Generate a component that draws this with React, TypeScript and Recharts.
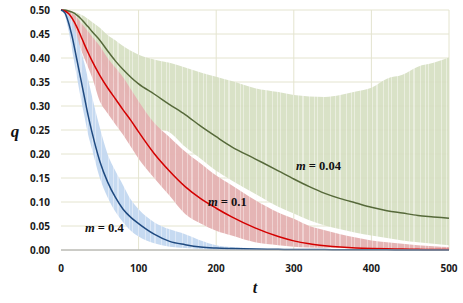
import { ComposedChart, Area, Line, XAxis, YAxis, CartesianGrid } from "recharts";

// time steps
const tValues = [0, 5, 10, 15, 20, 25, 30, 35, 40, 50, 60, 70, 80, 90, 100, 120, 140, 160, 180, 200, 220, 250, 280, 300, 320, 340, 360, 380, 400, 420, 440, 460, 480, 500];

// m = 0.4
const blueMean = [0.5, 0.494, 0.472, 0.44, 0.4, 0.36, 0.32, 0.28, 0.245, 0.185, 0.142, 0.11, 0.085, 0.068, 0.055, 0.033, 0.018, 0.011, 0.006, 0.004, 0.003, 0.002, 0.0015, 0.001, 0.001, 0.0008, 0.0006, 0.0005, 0.0004, 0.0003, 0.0002, 0.0002, 0.0001, 0.0001];
const blueLow = [0.5, 0.488, 0.455, 0.41, 0.365, 0.32, 0.28, 0.24, 0.21, 0.15, 0.11, 0.08, 0.058, 0.04, 0.028, 0.014, 0.007, 0.004, 0.002, 0.001, 0, 0, 0, 0, 0, 0, 0, 0, 0, 0, 0, 0, 0, 0];
const blueHigh = [0.5, 0.499, 0.49, 0.475, 0.45, 0.42, 0.39, 0.355, 0.32, 0.255, 0.2, 0.165, 0.135, 0.105, 0.085, 0.058, 0.043, 0.033, 0.02, 0.01, 0.006, 0.003, 0.001, 0, 0, 0, 0, 0, 0, 0, 0, 0, 0, 0];

// m = 0.1
const redMean = [0.5, 0.498, 0.492, 0.481, 0.466, 0.448, 0.429, 0.411, 0.394, 0.364, 0.338, 0.315, 0.292, 0.27, 0.246, 0.201, 0.164, 0.132, 0.107, 0.087, 0.069, 0.046, 0.028, 0.019, 0.013, 0.009, 0.006, 0.004, 0.003, 0.0025, 0.002, 0.0015, 0.001, 0.001];
const redLow = [0.5, 0.495, 0.48, 0.46, 0.44, 0.42, 0.4, 0.38, 0.36, 0.31, 0.285, 0.262, 0.24, 0.215, 0.19, 0.15, 0.113, 0.075, 0.055, 0.04, 0.03, 0.016, 0.01, 0.007, 0.005, 0.0045, 0.004, 0.003, 0.002, 0.001, 0.001, 0.001, 0.001, 0.001];
const redHigh = [0.5, 0.5, 0.498, 0.492, 0.485, 0.475, 0.465, 0.455, 0.445, 0.425, 0.4, 0.38, 0.36, 0.335, 0.31, 0.265, 0.235, 0.205, 0.18, 0.155, 0.135, 0.104, 0.078, 0.065, 0.05, 0.041, 0.033, 0.026, 0.02, 0.016, 0.013, 0.01, 0.008, 0.006];

// m = 0.04
const greenMean = [0.5, 0.5, 0.498, 0.495, 0.49, 0.483, 0.474, 0.465, 0.455, 0.437, 0.415, 0.394, 0.376, 0.36, 0.346, 0.325, 0.303, 0.282, 0.258, 0.236, 0.215, 0.19, 0.165, 0.148, 0.132, 0.118, 0.107, 0.098, 0.089, 0.082, 0.077, 0.072, 0.069, 0.066];
const greenLow = [0.5, 0.498, 0.49, 0.477, 0.465, 0.45, 0.44, 0.43, 0.42, 0.4, 0.375, 0.355, 0.335, 0.315, 0.295, 0.255, 0.245, 0.215, 0.19, 0.165, 0.145, 0.117, 0.09, 0.076, 0.062, 0.051, 0.043, 0.036, 0.03, 0.025, 0.02, 0.016, 0.013, 0.01];
const greenHigh = [0.5, 0.5, 0.499, 0.497, 0.495, 0.491, 0.487, 0.481, 0.475, 0.463, 0.448, 0.437, 0.425, 0.415, 0.407, 0.397, 0.39, 0.38, 0.37, 0.361, 0.352, 0.337, 0.329, 0.323, 0.32, 0.319, 0.323, 0.33, 0.338, 0.357, 0.365, 0.382, 0.39, 0.401];

const xTicks = [0, 100, 200, 300, 400, 500];
const yTicks = [0, 0.05, 0.1, 0.15, 0.2, 0.25, 0.3, 0.35, 0.4, 0.45, 0.5];

const data = tValues.map((t, i) => ({
  t,
  blue: blueMean[i],
  blueBand: [blueLow[i], blueHigh[i]],
  red: redMean[i],
  redBand: [redLow[i], redHigh[i]],
  green: greenMean[i],
  greenBand: [greenLow[i], greenHigh[i]],
}));

const tickStyle = { fill: "#1a1a1a", fontSize: 10, fontWeight: 700, fontFamily: "Open Sans" };
const serif = "'Liberation Serif', 'DejaVu Serif', serif";

// irregular light stripes, like the error-bar hatching in the original
const stripeXs = [2, 6, 7, 13, 18, 21, 27, 34];

function Stripes({ id, base, light }: { id: string; base: string; light: string }) {
  return (
    <pattern id={id} patternUnits="userSpaceOnUse" width={37} height={10}>
      <rect x={0} y={0} width={37} height={10} fill={base} />
      {stripeXs.map((x) => (
        <rect key={x} x={x} y={0} width={1} height={10} fill={light} />
      ))}
    </pattern>
  );
}

export default function App() {
  return (
    <div style={{ position: "relative", width: 463, height: 303 }}>
      <style>{"body{margin:0}"}</style>
      <ComposedChart width={463} height={303} data={data} margin={{ top: 10, right: 14, left: 0, bottom: 28 }}>
        <defs>
          <Stripes id="greenStripes" base="#d6dfc2" light="#e8eddc" />
          <Stripes id="redStripes" base="#e4b2b2" light="#efcfcf" />
          <Stripes id="blueStripes" base="#c4d8f0" light="#dce7f6" />
        </defs>
        <CartesianGrid
          stroke="#e4e4cf"
          verticalCoordinatesGenerator={({ offset }: any) =>
            xTicks.slice(1).map((v) => offset.left + (offset.width * v) / 500)
          }
        />
        <XAxis
          dataKey="t"
          type="number"
          domain={[0, 500]}
          ticks={xTicks}
          tickLine={false}
          axisLine={{ stroke: "#a6a6a6" }}
          tick={tickStyle}
          tickMargin={9}
          height={25}
        />
        <YAxis
          type="number"
          domain={[0, 0.5]}
          ticks={yTicks}
          tickFormatter={(v: number) => v.toFixed(2)}
          tickLine={false}
          axisLine={false}
          tick={tickStyle}
          tickMargin={5}
          width={61}
        />
        <Area type="monotone" dataKey="greenBand" stroke="none" fill="url(#greenStripes)" fillOpacity={0.92} isAnimationActive={false} />
        <Area type="monotone" dataKey="redBand" stroke="none" fill="url(#redStripes)" fillOpacity={0.96} isAnimationActive={false} />
        <Area type="monotone" dataKey="blueBand" stroke="none" fill="url(#blueStripes)" fillOpacity={0.96} isAnimationActive={false} />
        <Line type="monotone" dataKey="green" stroke="#56693a" strokeWidth={1.5} dot={false} isAnimationActive={false} />
        <Line type="monotone" dataKey="red" stroke="#d40000" strokeWidth={1.5} dot={false} isAnimationActive={false} />
        <Line type="monotone" dataKey="blue" stroke="#1f4a80" strokeWidth={1.5} dot={false} isAnimationActive={false} />
      </ComposedChart>
      <svg width={463} height={303} style={{ position: "absolute", left: 0, top: 0, pointerEvents: "none" }}>
        <g style={{ fontFamily: serif, fontWeight: 700 }} fill="#111">
          <text x={15} y={137} textAnchor="middle" fontSize={17} fontStyle="italic">q</text>
          <text x={255} y={293} textAnchor="middle" fontSize={16} fontStyle="italic">t</text>
          <text x={85} y={232} fontSize={12.5}>
            <tspan fontStyle="italic">m</tspan> = 0.4
          </text>
          <text x={208} y={206} fontSize={12.5}>
            <tspan fontStyle="italic">m</tspan> = 0.1
          </text>
          <text x={296} y={169.5} fontSize={12.5}>
            <tspan fontStyle="italic">m</tspan> = 0.04
          </text>
        </g>
      </svg>
    </div>
  );
}
